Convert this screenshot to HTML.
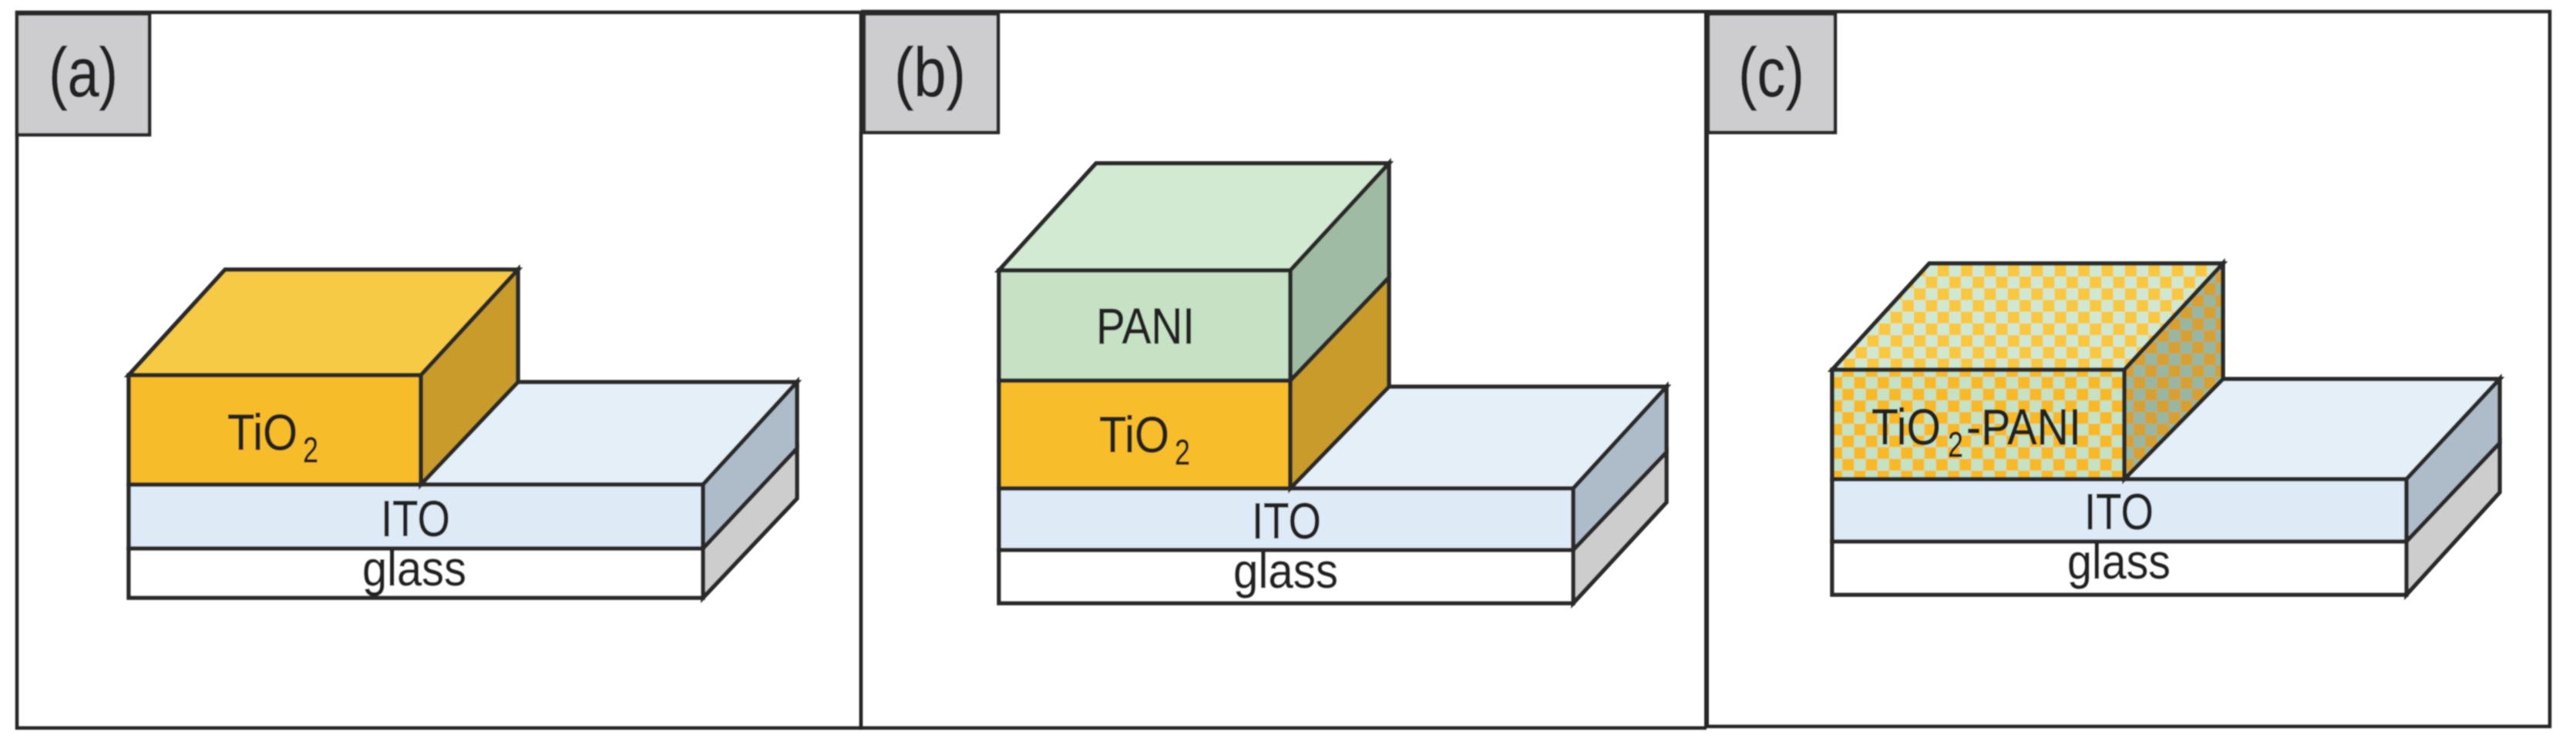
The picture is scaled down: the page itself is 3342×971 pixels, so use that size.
<!DOCTYPE html>
<html>
<head>
<meta charset="utf-8">
<style>
html,body{margin:0;padding:0;background:#fff;}
svg{display:block;}
text{font-family:"Liberation Sans",sans-serif;fill:#242424;stroke:#242424;stroke-width:0.6px;}
</style>
</head>
<body>
<svg xmlns="http://www.w3.org/2000/svg" width="3342" height="971" viewBox="0 0 3342 971">
<defs>
<filter id="b" x="-2%" y="-2%" width="104%" height="104%"><feGaussianBlur stdDeviation="0.9"/></filter>
<pattern id="cf" patternUnits="userSpaceOnUse" x="2709.3" y="489.3" width="30.4" height="30.4">
<rect width="30.4" height="30.4" fill="#c5e2c5"/><rect width="15.2" height="15.2" fill="#f9b928"/><rect x="15.2" y="15.2" width="15.2" height="15.2" fill="#f9b928"/>
</pattern>
<pattern id="ct" patternUnits="userSpaceOnUse" x="2513.5" y="343.8" width="30.4" height="30.4">
<rect width="30.4" height="30.4" fill="#d0e8d2"/><rect width="15.2" height="15.2" fill="#f9c840"/><rect x="15.2" y="15.2" width="15.2" height="15.2" fill="#f9c840"/>
</pattern>
<pattern id="cs" patternUnits="userSpaceOnUse" x="2768" y="489.3" width="30.4" height="30.4">
<rect width="30.4" height="30.4" fill="#98b6a2"/><rect width="15.2" height="15.2" fill="#d7a030"/><rect x="15.2" y="15.2" width="15.2" height="15.2" fill="#d7a030"/>
</pattern>
</defs>
<rect width="3342" height="971" fill="#fff"/>
<g filter="url(#b)">

<!-- Frames -->
<g fill="none" stroke="#262626">
<rect x="22" y="16" width="1095" height="929" stroke-width="4.5"/>
<path d="M1117 172V945H2214" stroke-width="4.5"/>
<path d="M1119 15V172" stroke-width="5.5"/>
<path d="M1117 15H2216" stroke-width="4.5"/>
<path d="M2214 15V945" stroke-width="6"/>
<path d="M2216 15H3308V943H2214" stroke-width="4.5"/>
</g>

<!-- Label boxes -->
<g fill="#cdcdcf" stroke="#2a2a2a" stroke-width="4.5">
<rect x="22" y="18" width="172" height="157"/>
<rect x="1121" y="18" width="174" height="154"/>
<rect x="2216" y="18" width="165" height="154"/>
</g>
<text x="63" y="125" font-size="90" textLength="90" lengthAdjust="spacingAndGlyphs">(a)</text>
<text x="1160" y="125" font-size="90" textLength="93" lengthAdjust="spacingAndGlyphs">(b)</text>
<text x="2255" y="125" font-size="90" textLength="86" lengthAdjust="spacingAndGlyphs">(c)</text>

<!-- Panel a -->
<g stroke="#2a2a2a" stroke-width="5.5" stroke-linejoin="miter">
<polygon points="546,629 672,496 1034,496 912,629" fill="#e5eff8"/>
<polygon points="912,712 1034,582 1034,647 912,776" fill="#cdcdcd"/>
<polygon points="912,629 1034,496 1034,582 912,712" fill="#aebcc9"/>
<rect x="167" y="712" width="745" height="64" fill="#fff"/>
<rect x="167" y="629" width="745" height="83" fill="#deeaf6"/>
<polygon points="167,487 292,350 672,350 546,487" fill="#f7ca45"/>
<polygon points="546,487 672,350 672,496 546,629" fill="#c89b2b"/>
<rect x="167" y="487" width="379" height="142" fill="#f7bc2b"/>
</g>
<text x="295" y="584" font-size="66" textLength="91" lengthAdjust="spacingAndGlyphs">TiO</text>
<text x="393" y="600" font-size="46" textLength="20" lengthAdjust="spacingAndGlyphs">2</text>
<text x="494" y="696" font-size="66" textLength="90" lengthAdjust="spacingAndGlyphs">ITO</text>
<text x="470" y="760" font-size="64" textLength="135" lengthAdjust="spacingAndGlyphs">glass</text>

<!-- Panel b -->
<g stroke="#2a2a2a" stroke-width="5.5" stroke-linejoin="miter">
<polygon points="1674,634 1802,502 2162,502 2041,634" fill="#e5eff8"/>
<polygon points="2041,714 2162,587 2162,652 2041,783" fill="#cdcdcd"/>
<polygon points="2041,634 2162,502 2162,587 2041,714" fill="#aebcc9"/>
<rect x="1296" y="714" width="745" height="69" fill="#fff"/>
<rect x="1296" y="634" width="745" height="80" fill="#deeaf6"/>
<rect x="1296" y="494" width="378" height="140" fill="#f8bd2c"/>
<polygon points="1674,494 1802,360 1802,502 1674,634" fill="#c89b2b"/>
<polygon points="1296,351 1422,212 1802,212 1674,351" fill="#d2e9d2"/>
<polygon points="1674,351 1802,212 1802,360 1674,494" fill="#a0bba3"/>
<rect x="1296" y="351" width="378" height="143" fill="#c6e1c4"/>
</g>
<text x="1422" y="446" font-size="66" textLength="128" lengthAdjust="spacingAndGlyphs">PANI</text>
<text x="1426" y="587" font-size="66" textLength="91" lengthAdjust="spacingAndGlyphs">TiO</text>
<text x="1524" y="603" font-size="46" textLength="20" lengthAdjust="spacingAndGlyphs">2</text>
<text x="1624" y="699" font-size="66" textLength="90" lengthAdjust="spacingAndGlyphs">ITO</text>
<text x="1600" y="763" font-size="64" textLength="136" lengthAdjust="spacingAndGlyphs">glass</text>

<!-- Panel c -->
<g stroke="#2a2a2a" stroke-width="5.5" stroke-linejoin="miter">
<polygon points="2756,622 2884,492 3243,492 3122,622" fill="#e5eff8"/>
<polygon points="3122,703 3243,575 3243,639 3122,772" fill="#cdcdcd"/>
<polygon points="3122,622 3243,492 3243,575 3122,703" fill="#aebcc9"/>
<rect x="2377" y="703" width="745" height="69" fill="#fff"/>
<rect x="2377" y="622" width="745" height="81" fill="#deeaf6"/>
<polygon points="2377,480 2503,342 2884,342 2756,480" fill="url(#ct)"/>
<polygon points="2756,480 2884,342 2884,492 2756,622" fill="url(#cs)"/>
<rect x="2377" y="480" width="379" height="142" fill="url(#cf)"/>
</g>
<text x="2428" y="577" font-size="66" textLength="90" lengthAdjust="spacingAndGlyphs">TiO</text>
<text x="2527" y="593" font-size="46" textLength="20" lengthAdjust="spacingAndGlyphs">2</text>
<text x="2551" y="577" font-size="66" textLength="149" lengthAdjust="spacingAndGlyphs">-PANI</text>
<text x="2704" y="687" font-size="66" textLength="90" lengthAdjust="spacingAndGlyphs">ITO</text>
<text x="2682" y="751" font-size="64" textLength="134" lengthAdjust="spacingAndGlyphs">glass</text>

</g>
</svg>
</body>
</html>
